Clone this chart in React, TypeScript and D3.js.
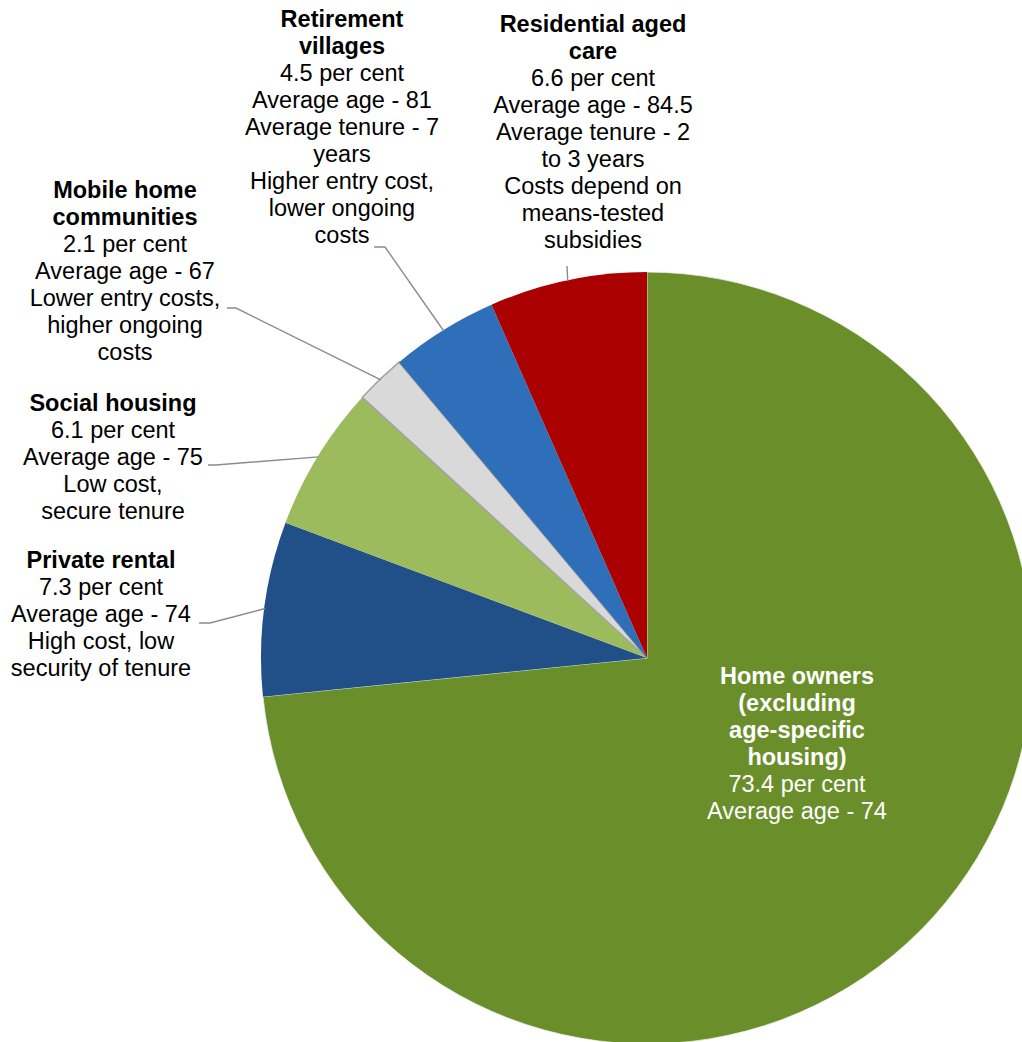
import * as d3 from "d3";

// shares of older Australians by housing type (per cent)
const categories = [
  "Home owners",
  "Private rental",
  "Social housing",
  "Mobile home communities",
  "Retirement villages",
  "Residential aged care",
];
const shares = [73.4, 7.3, 6.1, 2.1, 4.5, 6.6];
const titleLines = [
  ["Home owners", "(excluding", "age-specific", "housing)"],
  ["Private rental"],
  ["Social housing"],
  ["Mobile home", "communities"],
  ["Retirement", "villages"],
  ["Residential aged", "care"],
];
const detailLines = [
  ["Average age - 74"],
  ["Average age - 74", "High cost, low", "security of tenure"],
  ["Average age - 75", "Low cost,", "secure tenure"],
  ["Average age - 67", "Lower entry costs,", "higher ongoing", "costs"],
  ["Average age - 81", "Average tenure - 7", "years", "Higher entry cost,", "lower ongoing", "costs"],
  ["Average age - 84.5", "Average tenure - 2", "to 3 years", "Costs depend on", "means-tested", "subsidies"],
];
const colors = ["#6a8e29", "#214f87", "#9bbb5d", "#d9d9d9", "#2f6eb8", "#aa0000"];

// layout: label centre x, first baseline y, leader knee & end (null = inside)
const labelPos = [
  { x: 797, y: 684, knee: null, end: null },
  { x: 101, y: 568, knee: [210, 623], end: [199, 623] },
  { x: 113, y: 411, knee: [216, 465], end: [208, 465] },
  { x: 125, y: 198, knee: [236, 308], end: [227, 308] },
  { x: 342, y: 27, knee: [385, 247], end: [374, 247] },
  { x: 593, y: 32, knee: [567, 266], end: [567, 266] },
];

const W = 1022;
const H = 1042;
const cx = 647;
const cy = 658;
const R = 386;
const lineH = 27;
const fontSize = 23.5;

export default function App() {
  const pie = d3
    .pie<number>()
    .sort(null)
    .value((d) => d)
    .startAngle(0)
    .endAngle(2 * Math.PI);
  const arcs = pie(shares);
  const arc = d3.arc<d3.PieArcDatum<number>>().innerRadius(0).outerRadius(R);
  const line = d3.line();

  return (
    <div style={{ position: "absolute", left: 0, top: 0 }}>
      <svg width={W} height={H} style={{ display: "block", fontFamily: "'Liberation Sans', Arial, sans-serif" }}>
        <g transform={`translate(${cx},${cy})`}>
          {arcs.map((a, i) => (
            <path
              key={categories[i]}
              d={arc(a) || ""}
              fill={colors[i]}
              stroke={i === 3 ? "#a3a3a3" : i === 0 ? "#f2f2f2" : "none"}
              strokeWidth={i === 3 ? 1.6 : 0.8}
              strokeLinejoin="round"
            />
          ))}
        </g>
        {arcs.map((a, i) => {
          const p = labelPos[i];
          if (!p.knee || !p.end) return null;
          const mid = (a.startAngle + a.endAngle) / 2;
          const edge: [number, number] = [cx + Math.sin(mid) * (R - 1), cy - Math.cos(mid) * (R - 1)];
          return (
            <path
              key={"l" + i}
              d={line([edge, p.knee as [number, number], p.end as [number, number]]) || ""}
              fill="none"
              stroke="#8c8c8c"
              strokeWidth={1.4}
            />
          );
        })}
        {categories.map((c, i) => {
          const p = labelPos[i];
          const lines = [
            ...titleLines[i].map((t) => ({ t, bold: true })),
            { t: `${shares[i]} per cent`, bold: false },
            ...detailLines[i].map((t) => ({ t, bold: false })),
          ];
          return (
            <text
              key={c}
              textAnchor="middle"
              fontSize={fontSize}
              fill={i === 0 ? "#ffffff" : "#000000"}
            >
              {lines.map((l, j) => (
                <tspan key={j} x={p.x} y={p.y + j * lineH} fontWeight={l.bold ? "bold" : "normal"}>
                  {l.t}
                </tspan>
              ))}
            </text>
          );
        })}
      </svg>
    </div>
  );
}
